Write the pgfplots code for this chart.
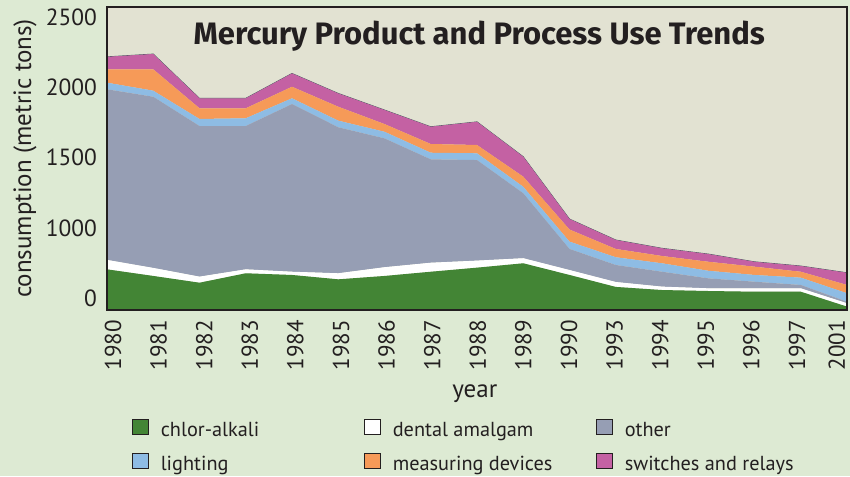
\documentclass[border=0pt]{standalone}
\usepackage{fontspec}
\setmainfont{PT Sans}
\newfontfamily\titlefont{Fira Sans}
\usepackage{pgfplots}
\pgfplotsset{compat=1.18}
\usepackage{pgfplotstable}

\definecolor{outerbg}{HTML}{DDEAD3}
\definecolor{plotbg}{HTML}{E2E2D2}
\definecolor{chlor}{HTML}{438535}
\definecolor{other}{HTML}{969EB4}
\definecolor{light}{HTML}{8EBCE4}
\definecolor{measure}{HTML}{F69A58}
\definecolor{switch}{HTML}{C461A3}
\definecolor{frame}{HTML}{231F20}
\definecolor{topline}{HTML}{3A5558}

% layer values (stacked), x = category index
\pgfplotstableread{
x  G   W   O    L   M   P   Z
0  706 67  1213 47  95  89  0
1  659 57  1217 43  152 109 0
2  611 43  1071 50  76  71  0
3  678 28  1019 55  71  71  0
4  666 23  1192 41  82  95  0
5  635 43  1038 47  99  95  0
6  659 62  916  47  55  100 0
7  689 64  735  47  62  123 0
8  718 50  715  48  59  165 0
9  749 36  462  46  72  142 0
10 666 35  150  52  86  75  0
11 581 35  121  55  59  64  0
12 559 24  106  60  52  55  0
13 552 19  71   54  64  55  0
14 547 24  47   48  59  35  0
15 547 24  24   52  42  41  0
16 441 24  11   60  59  87  0
}\mercury

\newcommand{\lentry}[1]{\makebox[190pt][l]{#1}}

\begin{document}
\begin{tikzpicture}
\fill[outerbg] (0,0) rectangle (850pt,476pt);
\begin{axis}[
  at={(107pt,166pt)}, anchor=south west,
  scale only axis, width=740pt, height=303pt,
  xmin=0, xmax=16, ymin=417, ymax=2571,
  enlargelimits=false,
  stack plots=y,
  axis on top,
  axis background/.style={fill=plotbg},
  axis line style={line width=1.6pt, draw=frame},
  major tick length=0pt,
  xtick={0.130,1.116,2.102,3.088,4.074,5.060,6.046,7.032,8.017,9.003,9.989,10.975,11.961,12.947,13.933,14.919,15.78},
  xticklabels={1980,1981,1982,1983,1984,1985,1986,1987,1988,1989,1990,1993,1994,1995,1996,1997,2001},
  ytick={500,1000,1500,2000,2500},
  yticklabels={0,1000,1500,2000,2500},
  xticklabel style={font=\fontsize{23}{23}\selectfont, rotate=90, anchor=east, inner sep=0pt, text=frame},
  xticklabel shift=10pt,
  yticklabel style={font=\fontsize{23.4}{23.4}\selectfont, anchor=east, inner sep=0pt, text=frame},
  yticklabel shift=10pt,
  ylabel={consumption (metric tons)},
  ylabel style={at={(axis description cs:-0.1108,0.5)}, rotate=0, anchor=center, font=\fontsize{25}{25}\selectfont, text=frame, inner sep=0pt},
  xlabel={year},
  xlabel style={at={(axis description cs:0.497,-0.2904)}, anchor=base, font=\fontsize{25}{25}\selectfont, text=frame, inner sep=0pt},
  legend columns=3,
  legend image code/.code={\draw[#1, draw=frame, line width=1.3pt] (0.65pt,-4pt) rectangle (16.95pt,11pt);},
  legend style={at={(axis description cs:0.0334,-0.3597)}, anchor=north west,
    draw=none, fill=none, inner sep=0pt, outer sep=0pt,
    font=\fontsize{20.3}{20.3}\selectfont, text=frame,
    nodes={inner sep=0pt, text height=16pt, text depth=5pt},
    row sep=12pt,
    /tikz/every odd column/.append style={column sep=11.5pt},
    /tikz/every even column/.append style={column sep=12.9pt}},
]
\addplot[fill=chlor, draw=none] table[x=x, y=G] {\mercury} \closedcycle;
\addplot[fill=white, draw=none] table[x=x, y=W] {\mercury} \closedcycle;
\addplot[fill=other, draw=none] table[x=x, y=O] {\mercury} \closedcycle;
\addplot[fill=light, draw=none] table[x=x, y=L] {\mercury} \closedcycle;
\addplot[fill=measure, draw=none] table[x=x, y=M] {\mercury} \closedcycle;
\addplot[fill=switch, draw=none] table[x=x, y=P] {\mercury} \closedcycle;
\addplot[forget plot, draw=topline, line width=0.7pt] table[x=x, y=Z] {\mercury};
\node[anchor=base, font=\titlefont\fontsize{31}{31}\selectfont\bfseries, text=frame] at (axis description cs:0.503,0.8746) {Mercury Product and Process Use Trends};
\legend{\lentry{chlor-alkali},\lentry{dental amalgam},\lentry{other},\lentry{lighting},\lentry{measuring devices},\lentry{switches and relays}}
\end{axis}
\pgfresetboundingbox
\useasboundingbox (0,0) rectangle (850pt,476pt);
\end{tikzpicture}
\end{document}
